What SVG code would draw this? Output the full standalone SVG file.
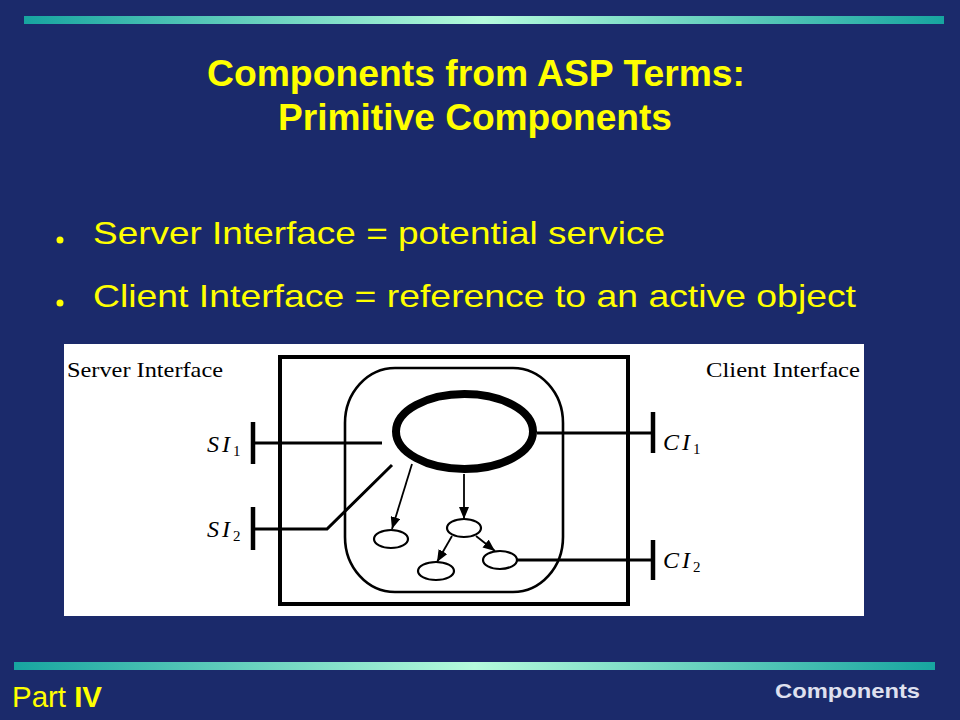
<svg xmlns="http://www.w3.org/2000/svg" width="960" height="720" viewBox="0 0 960 720">
<defs>
<linearGradient id="bar" x1="0" y1="0" x2="1" y2="0">
<stop offset="0" stop-color="#17a5a0"/>
<stop offset="0.5" stop-color="#b5fbdc"/>
<stop offset="1" stop-color="#17a5a0"/>
</linearGradient>
<marker id="ah" viewBox="0 0 12 10" refX="12" refY="5" markerWidth="12" markerHeight="10" markerUnits="userSpaceOnUse" orient="auto">
<path d="M0,0 L12,5 L0,10 z" fill="#000"/>
</marker>
<style>
.title{font-family:"Liberation Sans",Arial,sans-serif;font-weight:bold;font-size:37px;fill:#ffff00;text-anchor:middle}
.bul{font-family:"Liberation Sans",Arial,sans-serif;font-size:32px;fill:#ffff00}
.lbl{font-family:"Liberation Serif","Times New Roman",serif;font-size:21px;fill:#000}
.math{font-family:"Liberation Serif","Times New Roman",serif;font-style:italic;font-size:24px;letter-spacing:3px;fill:#000}
.sub{font-family:"Liberation Serif","Times New Roman",serif;font-style:normal;font-size:15px;letter-spacing:0}
.ln{stroke:#000;fill:none}
.bar{stroke:#000;stroke-width:4.5}
.conn{stroke:#000;stroke-width:3;fill:none}
.arr{stroke:#000;stroke-width:1.8;fill:none}
.small{fill:#fff;stroke:#000;stroke-width:2.2}
</style>
</defs>
<rect width="960" height="720" fill="#1b2a6b"/>
<rect x="24" y="16" width="920" height="8" fill="url(#bar)"/>
<rect x="14" y="662" width="921" height="8" fill="url(#bar)"/>
<text class="title" x="476" y="86" textLength="538" lengthAdjust="spacingAndGlyphs">Components from ASP Terms:</text>
<text class="title" x="475" y="130" textLength="394" lengthAdjust="spacingAndGlyphs">Primitive Components</text>
<circle cx="60" cy="240" r="3.5" fill="#ffff00"/>
<circle cx="60" cy="303" r="3.5" fill="#ffff00"/>
<text class="bul" x="93" y="244" textLength="572" lengthAdjust="spacingAndGlyphs">Server Interface = potential service</text>
<text class="bul" x="93" y="307" textLength="763" lengthAdjust="spacingAndGlyphs">Client Interface = reference to an active object</text>
<text x="12" y="707" font-family="Liberation Sans,Arial,sans-serif" font-size="29" fill="#ffff00" textLength="90" lengthAdjust="spacingAndGlyphs">Part <tspan font-weight="bold">IV</tspan></text>
<text x="920" y="698" font-family="Liberation Sans,Arial,sans-serif" font-size="21" font-weight="bold" fill="#dfe0ef" text-anchor="end" textLength="145" lengthAdjust="spacingAndGlyphs">Components</text>
<rect x="64" y="344" width="800" height="272" fill="#fff"/>
<g id="labels">
<text class="lbl" x="67" y="377" textLength="156" lengthAdjust="spacingAndGlyphs">Server Interface</text>
<text class="lbl" x="706" y="377" textLength="154" lengthAdjust="spacingAndGlyphs">Client Interface</text>
</g>
<g id="component">
<rect x="280" y="357" width="348" height="247" class="ln" stroke-width="4"/>
</g>
<g id="content">
<rect x="345" y="368" width="218" height="224" rx="50" ry="55" class="ln" stroke-width="2.6"/>
</g>
<g id="connectors">
<line x1="253" y1="443" x2="382" y2="443" class="conn"/>
<polyline points="253,529 327,529 392,465" class="conn"/>
<line x1="537" y1="433" x2="653" y2="433" class="conn"/>
<line x1="517" y1="560" x2="653" y2="560" class="conn"/>
<line x1="412" y1="464" x2="392" y2="529" class="arr" marker-end="url(#ah)"/>
<line x1="464" y1="474" x2="464" y2="519" class="arr" marker-end="url(#ah)"/>
<line x1="452" y1="536" x2="437" y2="562" class="arr" marker-end="url(#ah)"/>
<line x1="476" y1="536" x2="495" y2="551" class="arr" marker-end="url(#ah)"/>
</g>
<g id="activeObject">
<ellipse cx="464.5" cy="431.5" rx="68.5" ry="37.5" fill="#fff" stroke="#000" stroke-width="8"/>
</g>
<g id="obj1"><ellipse cx="391" cy="539" rx="17" ry="9" class="small"/></g>
<g id="obj2"><ellipse cx="464" cy="528" rx="17" ry="9" class="small"/></g>
<g id="obj3"><ellipse cx="436" cy="571" rx="18" ry="9" class="small"/></g>
<g id="obj4"><ellipse cx="500" cy="560" rx="17" ry="9" class="small"/></g>
<g id="SI1">
<line x1="253" y1="422" x2="253" y2="464" class="bar"/>
<text class="math" x="207" y="452">SI<tspan class="sub" dy="4">1</tspan></text>
</g>
<g id="SI2">
<line x1="253" y1="507" x2="253" y2="550" class="bar"/>
<text class="math" x="207" y="537">SI<tspan class="sub" dy="4">2</tspan></text>
</g>
<g id="CI1">
<line x1="653" y1="412" x2="653" y2="453" class="bar"/>
<text class="math" x="663" y="450">CI<tspan class="sub" dy="4">1</tspan></text>
</g>
<g id="CI2">
<line x1="653" y1="540" x2="653" y2="580" class="bar"/>
<text class="math" x="663" y="568">CI<tspan class="sub" dy="4">2</tspan></text>
</g>
</svg>
